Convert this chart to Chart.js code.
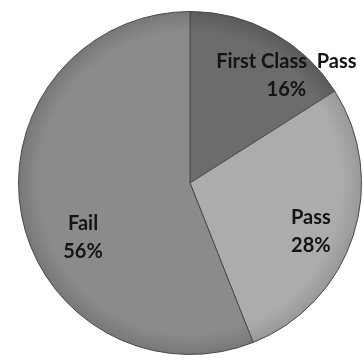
<!DOCTYPE html>
<html>
<head>
<meta charset="utf-8">
<script src="https://cdn.jsdelivr.net/npm/chart.js@4/dist/chart.umd.min.js"></script>
<style>
  html, body { margin: 0; padding: 0; background: #fff; }
  #wrap { width: 364px; height: 360px; position: relative; }
</style>
</head>
<body>
<div id="wrap"><canvas id="c"></canvas></div>
<script>
// result share by category, clockwise from 12 o'clock
var categories = ['First Class  Pass', 'Pass', 'Fail'];
var shares = [16, 28, 56];
var sliceColors = ['#6c6c6c', '#acacac', '#8b8b8b'];
var rimColors = ['#5a5a5a', '#989898', '#777777'];

var FONT = "Lato, 'Open Sans', sans-serif";

// radial shading so each slice darkens a little toward the rim
function shade(ctx) {
  var c = ctx.chart, a = c.chartArea;
  if (!a) return sliceColors[ctx.dataIndex];
  var cx = (a.left + a.right) / 2, cy = (a.top + a.bottom) / 2;
  var r = Math.min(a.right - a.left, a.bottom - a.top) / 2;
  var g = c.ctx.createRadialGradient(cx, cy, 0, cx, cy, r);
  g.addColorStop(0, sliceColors[ctx.dataIndex]);
  g.addColorStop(0.88, sliceColors[ctx.dataIndex]);
  g.addColorStop(1, rimColors[ctx.dataIndex]);
  return g;
}

// label placement per slice: [angle in degrees clockwise from top, fraction of radius]
var labelSpots = [[42, 0.84], [112, 0.76], [243, 0.70]];

Chart.register({
  id: 'sliceLabels',
  afterDatasetsDraw: function (c) {
    var meta = c.getDatasetMeta(0);
    var g = c.ctx;
    g.save();
    g.font = 'bold 20px ' + FONT;
    g.fillStyle = '#141414';
    g.textAlign = 'center';
    g.textBaseline = 'middle';
    meta.data.forEach(function (el, i) {
      var spot = labelSpots[i];
      var ang = spot[0] * Math.PI / 180;
      var x = el.x + Math.sin(ang) * el.outerRadius * spot[1];
      var y = el.y - Math.cos(ang) * el.outerRadius * spot[1];
      g.fillText(categories[i], x, y - 14);
      g.fillText(shares[i] + '%', x, y + 14);
    });
    g.restore();
  }
});

new Chart(document.getElementById('c'), {
  type: 'pie',
  data: {
    labels: categories,
    datasets: [{
      data: shares,
      backgroundColor: shade,
      borderColor: '#4a4a4a',
      borderWidth: 1
    }]
  },
  options: {
    responsive: true,
    maintainAspectRatio: false,
    animation: false,
    layout: { padding: { left: 18, right: 2, top: 11, bottom: 5 } },
    plugins: { legend: { display: false }, tooltip: { enabled: false } }
  }
});
</script>
</body>
</html>
